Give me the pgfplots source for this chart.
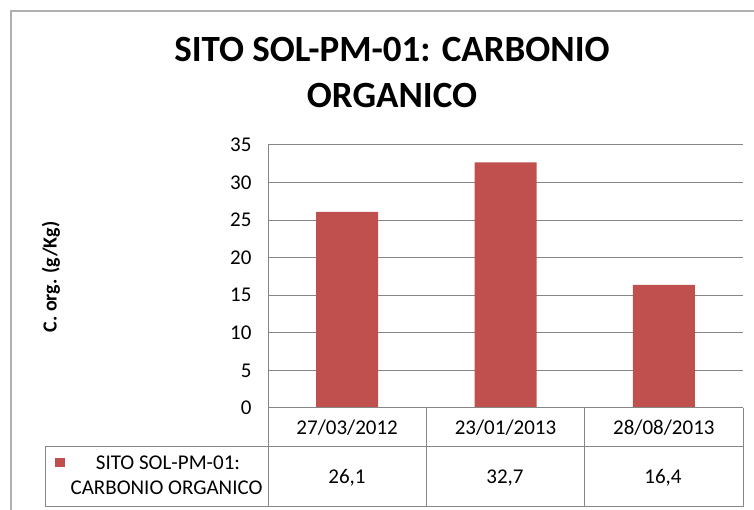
\documentclass[border=0pt]{standalone}
\usepackage{pgfplots}
\pgfplotsset{compat=1.18}
\usepackage{fontspec}
\setmainfont{Carlito}
\definecolor{barred}{HTML}{C0504D}
\definecolor{gridgray}{HTML}{868686}
\definecolor{framegray}{HTML}{B0B0B0}
\begin{document}
\begin{tikzpicture}[x=1pt,y=1pt]
\useasboundingbox (0,0) rectangle (754,510);
\draw[framegray, line width=1.5pt] (11,0) -- (11,499) -- (754,499);
\node[font=\bfseries\fontsize{37}{44}\selectfont, anchor=base, inner sep=0pt] at (392,448) {SITO SOL-PM-01: CARBONIO};
\node[font=\bfseries\fontsize{37}{44}\selectfont, anchor=base, inner sep=0pt] at (392,402) {ORGANICO};
\node[font=\bfseries\fontsize{20}{24}\selectfont, rotate=90] at (51,233) {C. org. (g/Kg)};
\begin{axis}[
  at={(268pt,102pt)}, anchor=south west,
  scale only axis, width=475pt, height=263pt,
  xmin=-0.5, xmax=2.5, ymin=0, ymax=35,
  ytick={0,5,...,35},
  xtick={0,1,2},
  xticklabels={27/03/2012,23/01/2013,28/08/2013},
  xticklabel style={anchor=center, yshift=-19.5pt, font=\fontsize{21}{25}\selectfont},
  yticklabel style={anchor=east, xshift=-13pt, font=\fontsize{21}{25}\selectfont},
  /pgf/number format/assume math mode=true,
  major tick length=0pt,
  tick style={draw=none},
  ymajorgrids,
  grid style={gridgray, line width=1pt},
  axis line style={draw=none},
  ybar, bar width=62pt,
  clip=false,
]
\addplot[fill=barred, draw=none] coordinates {(0,26.1) (1,32.7) (2,16.4)};
\end{axis}
% data table
\begin{scope}[gridgray, line width=1pt]
\draw (268,366) -- (268,3);
\draw (268,102) -- (743,102);
\draw (45,63) -- (743,63);
\draw (45,3) -- (743,3);
\draw (45,63) -- (45,3);
\draw (426,102) -- (426,3);
\draw (584,102) -- (584,3);
\draw (743,102) -- (743,3);
\end{scope}
\fill[barred] (55,43) rectangle (65,52);
\node[font=\fontsize{21}{25}\selectfont, anchor=base, inner sep=0pt] at (168,40) {SITO SOL-PM-01:};
\node[font=\fontsize{21}{25}\selectfont, anchor=base, inner sep=0pt] at (166.5,15) {CARBONIO ORGANICO};
\node[font=\fontsize{21}{25}\selectfont] at (347,32) {26,1};
\node[font=\fontsize{21}{25}\selectfont] at (505,32) {32,7};
\node[font=\fontsize{21}{25}\selectfont] at (663,32) {16,4};
\end{tikzpicture}
\end{document}
